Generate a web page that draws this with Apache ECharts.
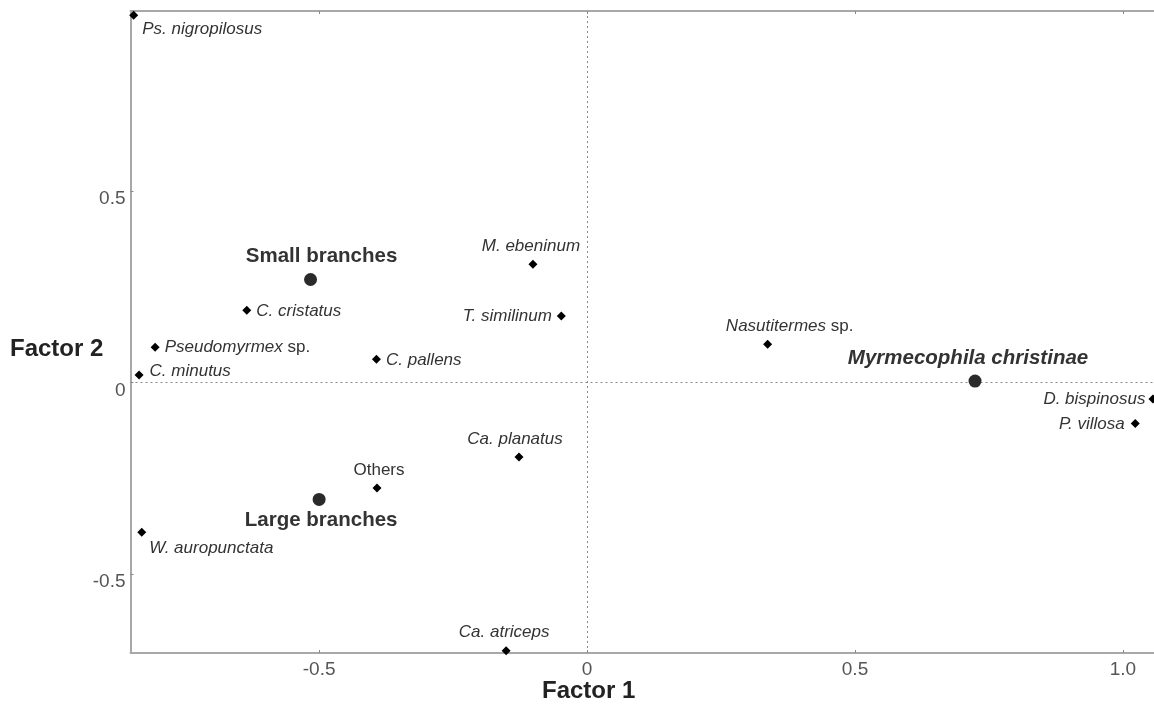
<!DOCTYPE html>
<html>
<head>
<meta charset="utf-8">
<script src="https://cdn.jsdelivr.net/npm/echarts@6/dist/echarts.min.js"></script>
<style>
html,body{margin:0;padding:0;background:#fff;}
#chart{width:1154px;height:707px;}
</style>
</head>
<body>
<div id="chart"></div>
<script>
// ---- data ----
const speciesNames = ['Ps. nigropilosus','C. cristatus','Pseudomyrmex sp.','C. minutus','C. pallens','M. ebeninum','T. similinum','Nasutitermes sp.','D. bispinosus','P. villosa','Ca. planatus','Others','W. auropunctata','Ca. atriceps'];
const speciesX = [-0.846,-0.635,-0.806,-0.836,-0.393,-0.101,-0.048,0.337,1.056,1.023,-0.127,-0.392,-0.831,-0.151];
const speciesY = [0.959,0.189,0.092,0.020,0.061,0.309,0.174,0.100,-0.043,-0.107,-0.194,-0.275,-0.391,-0.700];

const groupNames = ['Small branches','Large branches','Myrmecophila christinae'];
const groupX = [-0.516,-0.500,0.724];
const groupY = [0.269,-0.305,0.004];

const xTicks = [-0.5,0,0.5,1.0];
const yTicks = [-0.5,0,0.5];
const xAxisTitle = 'Factor 1';
const yAxisTitle = 'Factor 2';

// ---- label placement (style) ----
const labelPlace = {
  'Ps. nigropilosus': {position:'right', distance:4, offset:[0,14]},
  'C. cristatus': {position:'right', distance:5, offset:[0,1]},
  'Pseudomyrmex sp.': {position:'right', distance:5, offset:[0,0]},
  'C. minutus': {position:'right', distance:6, offset:[0,-4]},
  'C. pallens': {position:'right', distance:5, offset:[0,1]},
  'M. ebeninum': {position:'top', distance:5, offset:[-2,0]},
  'T. similinum': {position:'left', distance:5, offset:[0,0]},
  'Nasutitermes sp.': {position:'top', distance:5, offset:[22,0]},
  'D. bispinosus': {position:'left', distance:3, offset:[0,0]},
  'P. villosa': {position:'left', distance:6, offset:[0,1]},
  'Ca. planatus': {position:'top', distance:5, offset:[-4,0]},
  'Others': {position:'top', distance:5, offset:[2,0]},
  'W. auropunctata': {position:'right', distance:5, offset:[-2,16]},
  'Ca. atriceps': {position:'top', distance:5, offset:[-2,0]},
  'Small branches': {position:'top', distance:4, offset:[11,-2]},
  'Large branches': {position:'bottom', distance:4, offset:[2,0]},
  'Myrmecophila christinae': {position:'top', distance:4, offset:[-7,-2]}
};

function fmtName(n){
  if (n === 'Others') return n;
  if (n.endsWith(' sp.')) return '{i|' + n.slice(0, -4) + '} sp.';
  return '{i|' + n + '}';
}

const FONT = '"Liberation Sans", Arial, sans-serif';

const speciesData = speciesNames.map((n,i)=>{
  const p = labelPlace[n];
  return {
    name: n,
    value: [speciesX[i], speciesY[i]],
    label: {position: p.position, distance: p.distance, offset: p.offset, formatter: fmtName(n)}
  };
});
const groupData = groupNames.map((n,i)=>{
  const p = labelPlace[n];
  const italic = n === 'Myrmecophila christinae';
  return {
    name: n,
    value: [groupX[i], groupY[i]],
    label: {position: p.position, distance: p.distance, offset: p.offset,
            fontStyle: italic ? 'italic' : 'normal'}
  };
});

const chart = echarts.init(document.getElementById('chart'), null, {renderer:'canvas'});
const tickFmt = v => (v === 1 ? '1.0' : String(v));
const axisLineStyle = {color:'#a8a8a8', width:2};

chart.setOption({
  animation: false,
  backgroundColor: '#fff',
  grid: {left: 130.5, right: 0, top: 11, bottom: 54, containLabel: false},
  xAxis: [{
    type: 'value', min: -0.852, max: 1.058, position: 'bottom',
    axisLine: {show: true, onZero: false, lineStyle: axisLineStyle},
    axisTick: {show: true, inside: true, length: 3, customValues: xTicks, lineStyle: {color:'#888', width:1}},
    axisLabel: {show: true, customValues: xTicks, formatter: tickFmt, color:'#555', fontSize: 19, fontFamily: FONT, margin: 7},
    splitLine: {show: false}
  },{
    type: 'value', min: -0.852, max: 1.058, position: 'top',
    axisLine: {show: true, onZero: false, lineStyle: axisLineStyle},
    axisTick: {show: true, inside: true, length: 3, customValues: xTicks, lineStyle: {color:'#888', width:1}},
    axisLabel: {show: false},
    splitLine: {show: false}
  }],
  yAxis: {
    type: 'value', min: -0.706, max: 0.970,
    axisLine: {show: true, onZero: false, lineStyle: axisLineStyle},
    axisTick: {show: true, inside: true, length: 3, customValues: yTicks, lineStyle: {color:'#888', width:1}},
    axisLabel: {show: true, customValues: yTicks, formatter: tickFmt, color:'#555', fontSize: 19, fontFamily: FONT, margin: 5, verticalAlign: 'top', lineHeight: 16},
    splitLine: {show: false}
  },
  graphic: [
    {type:'text', left: 542, top: 679, style:{text: xAxisTitle, font: 'bold 24px ' + FONT, fill:'#222'}},
    {type:'text', left: 10, top: 337, style:{text: yAxisTitle, font: 'bold 24px ' + FONT, fill:'#222'}}
  ],
  series: [{
    type: 'scatter',
    name: 'species',
    symbol: 'diamond',
    symbolSize: 9,
    clip: false,
    z: 5,
    itemStyle: {color: '#000', opacity: 1},
    label: {
      show: true, color:'#333', fontSize: 17, fontFamily: FONT,
      rich: {i: {fontStyle: 'italic', fontSize: 17, color:'#333', fontFamily: FONT}}
    },
    data: speciesData,
    markLine: {
      silent: true, symbol: 'none', animation: false,
      label: {show: false},
      lineStyle: {type: [2, 3], color: '#8a8a8a', width: 1, opacity: 1},
      data: [{xAxis: 0}, {yAxis: 0}]
    }
  },{
    type: 'scatter',
    name: 'groups',
    symbol: 'circle',
    symbolSize: 13,
    clip: false,
    z: 6,
    itemStyle: {color: '#2a2a2a', opacity: 1},
    label: {show: true, color:'#333', fontSize: 20.5, fontWeight: 'bold', fontFamily: FONT, formatter: '{b}'},
    data: groupData
  }]
});
</script>
</body>
</html>
